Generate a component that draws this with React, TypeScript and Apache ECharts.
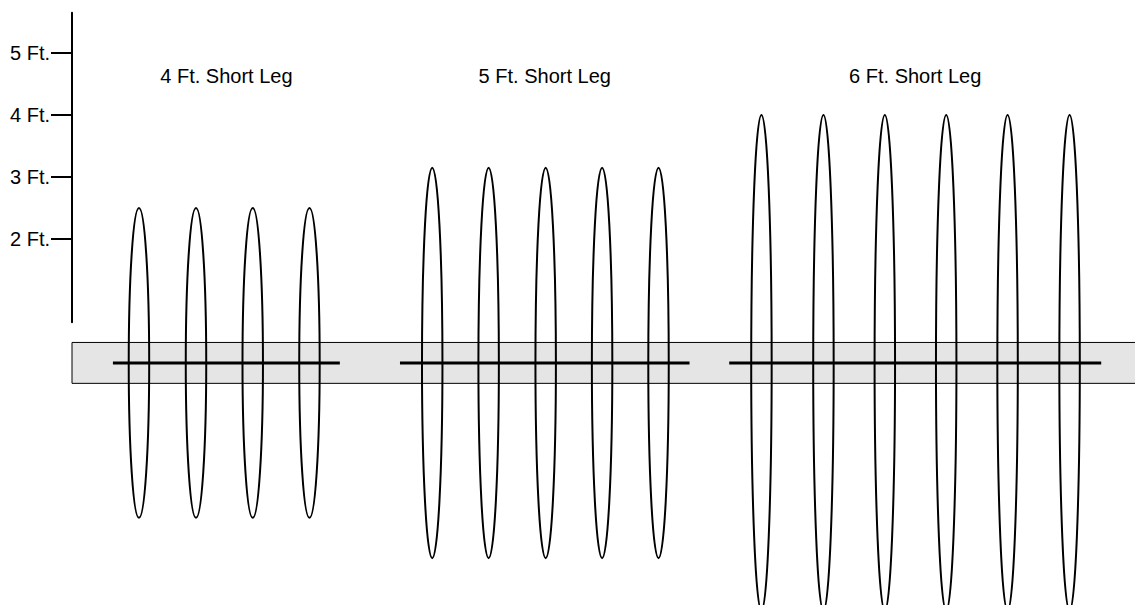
import React, { useEffect, useRef } from "react";
import * as echarts from "echarts";

// ---- data (all in feet) ----
const groupTitles = ["4 Ft. Short Leg", "5 Ft. Short Leg", "6 Ft. Short Leg"];
const legHeights = [2.5, 3.15, 4.0];
const group1X = [1.08, 2.0, 2.915, 3.83];
const group2X = [5.81, 6.72, 7.64, 8.55, 9.46];
const group3X = [11.12, 12.12, 13.11, 14.1, 15.09, 16.09];
const lineStart = [0.66, 5.29, 10.6];
const lineEnd = [4.32, 9.96, 16.6];
const titleY = 4.63;
const legHalfWidth = 0.165;
const bandHalfHeight = 0.33;
const bandStart = 0;
const bandEnd = 18;
const yTickValues = [2, 3, 4, 5];

const FONT = '"Liberation Sans", Arial, Helvetica, sans-serif';

export default function App() {
  const ref = useRef<HTMLDivElement>(null);
  useEffect(() => {
    document.body.style.margin = "0";
    const chart = echarts.init(ref.current!, undefined, { renderer: "svg" });

    const groups = [group1X, group2X, group3X];
    const legData: number[][] = [];
    groups.forEach((g, gi) => g.forEach((x) => legData.push([x, legHeights[gi]])));
    const lineData = lineStart.map((s, i) => [s, lineEnd[i]]);
    const titleData = groupTitles.map((t, i) => [(lineStart[i] + lineEnd[i]) / 2, titleY, t]);

    chart.setOption({
      animation: false,
      grid: { left: 72, top: 12.7, width: 1054, height: 309.6, containLabel: false },
      xAxis: {
        type: "value",
        min: 0,
        max: 17,
        show: false,
      },
      yAxis: {
        type: "value",
        min: 0.655,
        max: 5.65,
        axisLine: { show: true, onZero: false, lineStyle: { color: "#000", width: 2 } },
        axisTick: {
          show: true,
          customValues: yTickValues,
          length: 21,
          lineStyle: { color: "#000", width: 2 },
        },
        axisLabel: {
          show: true,
          customValues: yTickValues,
          formatter: (v: number) => `${v} Ft.`,
          margin: 22,
          color: "#000",
          fontSize: 20,
          fontFamily: FONT,
        },
        splitLine: { show: false },
      },
      series: [
        {
          type: "custom",
          clip: false,
          silent: true,
          z: 1,
          data: [[bandStart, bandEnd]],
          renderItem: (params: any, api: any) => {
            const p1 = api.coord([api.value(0), bandHalfHeight]);
            const p2 = api.coord([api.value(1), -bandHalfHeight]);
            return {
              type: "rect",
              shape: { x: p1[0], y: p1[1], width: p2[0] - p1[0], height: p2[1] - p1[1] },
              style: { fill: "#e5e5e5", stroke: "#000", lineWidth: 1 },
            };
          },
        },
        {
          type: "custom",
          clip: false,
          silent: true,
          z: 2,
          data: lineData,
          renderItem: (params: any, api: any) => {
            const p1 = api.coord([api.value(0), 0]);
            const p2 = api.coord([api.value(1), 0]);
            return {
              type: "line",
              shape: { x1: p1[0], y1: p1[1], x2: p2[0], y2: p2[1] },
              style: { stroke: "#000", lineWidth: 3 },
            };
          },
        },
        {
          type: "custom",
          clip: false,
          silent: true,
          z: 3,
          data: legData,
          renderItem: (params: any, api: any) => {
            const c = api.coord([api.value(0), 0]);
            const s = api.size([legHalfWidth, api.value(1)]);
            return {
              type: "ellipse",
              shape: { cx: c[0], cy: c[1], rx: s[0], ry: s[1] },
              style: { fill: "none", stroke: "#000", lineWidth: 2 },
            };
          },
        },
        {
          type: "custom",
          clip: false,
          silent: true,
          z: 4,
          data: titleData,
          renderItem: (params: any, api: any) => {
            const c = api.coord([api.value(0), api.value(1)]);
            return {
              type: "text",
              x: c[0],
              y: c[1],
              style: {
                text: titleData[params.dataIndex][2] as string,
                fill: "#000",
                fontSize: 20,
                fontFamily: FONT,
                align: "center",
                verticalAlign: "middle",
              },
            };
          },
        },
      ],
    });
    return () => chart.dispose();
  }, []);
  return (
    <div
      ref={ref}
      style={{ position: "absolute", left: 0, top: 0, width: 1135, height: 605 }}
    />
  );
}
